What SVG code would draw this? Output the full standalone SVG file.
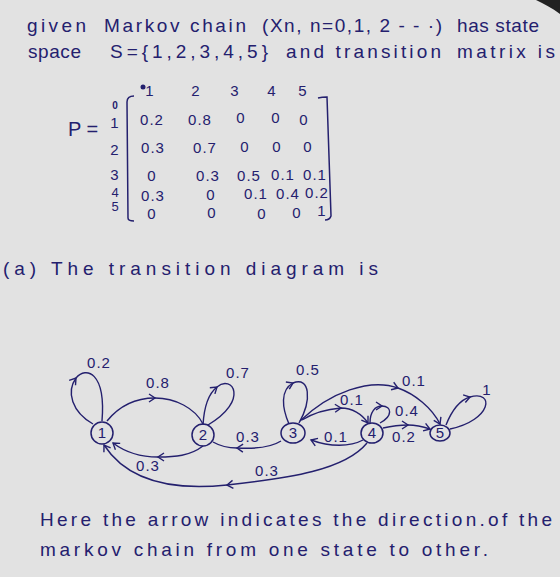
<svg xmlns="http://www.w3.org/2000/svg" width="560" height="577" viewBox="0 0 560 577">
<defs>
<marker id="chev" markerUnits="userSpaceOnUse" markerWidth="12" markerHeight="12" viewBox="-8 -6 10 12" refX="0" refY="0" orient="auto">
<path d="M-6,-4 L0,0 L-6,4" fill="none" stroke="#24206e" stroke-width="1.4"/>
</marker>
</defs>
<style>
text{font-family:"Liberation Sans","DejaVu Sans",sans-serif;fill:#24206e}
.t{font-size:19px}
.m{font-size:15px;text-anchor:middle;letter-spacing:1px}
.l{font-size:15px;text-anchor:middle;letter-spacing:1px}
.n{font-size:15px;text-anchor:middle}
.node ellipse{fill:none;stroke:#24206e;stroke-width:1.5}
.e{fill:none;stroke:#24206e;stroke-width:1.4}
.mid{marker-mid:url(#chev)}
.end{marker-end:url(#chev)}
.br{fill:none;stroke:#24206e;stroke-width:1.5}
</style>
<rect width="560" height="577" fill="#e2e2e2"/>
<path d="M536,0 L560,0 L560,14 C552,8 544,4 536,0 Z" fill="#222"/>
<g id="intro">
<text class="t" x="27" y="32" textLength="59" lengthAdjust="spacing">given</text>
<text class="t" x="104" y="32" textLength="142" lengthAdjust="spacing">Markov chain</text>
<text class="t" x="262" y="32" textLength="180" lengthAdjust="spacing">(Xn, n=0,1, 2 - - ·)</text>
<text class="t" x="457" y="32" textLength="82" lengthAdjust="spacing">has state</text>
<text class="t" x="28" y="58" textLength="53" lengthAdjust="spacing">space</text>
<text class="t" x="110" y="58" textLength="158" lengthAdjust="spacing">S={1,2,3,4,5}</text>
<text class="t" x="286" y="58" textLength="155" lengthAdjust="spacing">and transition</text>
<text class="t" x="457" y="58" textLength="98" lengthAdjust="spacing">matrix is</text>
</g>
<g id="matrix">
<text x="68" y="136" style="font-size:20px">P =</text>
<path class="br" d="M134,96 C129,96 127,98 127,102 L128,218 C128,220 130,221 134,221"/>
<path class="br" d="M318,98 C322,97 325,97 327,97 L331,216 C330,219 328,220 325,220"/>
<circle cx="143" cy="87" r="2.5" fill="#24206e"/>
<text class="m" x="150" y="96">1</text>
<text class="m" x="196" y="96">2</text>
<text class="m" x="235" y="96">3</text>
<text class="m" x="272" y="96">4</text>
<text class="m" x="303" y="96">5</text>
<text x="115" y="109" style="font-weight:bold;font-size:10px;text-anchor:middle">0</text>
<text class="m" x="115" y="128">1</text>
<text class="m" x="115" y="155">2</text>
<text class="m" x="115" y="180">3</text>
<text x="115" y="197" style="font-size:13px;text-anchor:middle">4</text>
<text x="115" y="211" style="font-size:13px;text-anchor:middle">5</text>
<text class="m" x="152" y="125">0.2</text>
<text class="m" x="200" y="125">0.8</text>
<text class="m" x="241" y="123">0</text>
<text class="m" x="276" y="123">0</text>
<text class="m" x="304" y="125">0</text>
<text class="m" x="153" y="153">0.3</text>
<text class="m" x="205" y="153">0.7</text>
<text class="m" x="245" y="152">0</text>
<text class="m" x="277" y="152">0</text>
<text class="m" x="308" y="152">0</text>
<text class="m" x="152" y="181">0</text>
<text class="m" x="208" y="181">0.3</text>
<text class="m" x="249" y="181">0.5</text>
<text class="m" x="283" y="180">0.1</text>
<text class="m" x="315" y="180">0.1</text>
<text class="m" x="153" y="201">0.3</text>
<text class="m" x="211" y="200">0</text>
<text class="m" x="256" y="199">0.1</text>
<text class="m" x="288" y="199">0.4</text>
<text class="m" x="317" y="198">0.2</text>
<text class="m" x="152" y="219">0</text>
<text class="m" x="212" y="218">0</text>
<text class="m" x="262" y="219">0</text>
<text class="m" x="297" y="218">0</text>
<text class="m" x="322" y="216">1</text>
</g>
<text id="caption" class="t" x="3" y="275" textLength="375" lengthAdjust="spacing">(a) The transition diagram is</text>
<g id="connectors">
<path class="e mid" d="M93,424 C72,412 66,392 76,378 C86,366 106,372 102,421"/>
<path class="e mid" d="M107,421 C120,405 135,398 155,398 C175,398 195,408 203,424"/>
<path class="e mid" d="M203,425 C204,408 208,394 217,387 C232,374 250,400 208,425"/>
<path class="e mid end" d="M203,446 C190,456 175,457 158,457 C140,457 125,452 113,443"/>
<path class="e mid" d="M281,441 C270,448 255,449 237,448 C228,448 220,446 213,442"/>
<path class="e mid end" d="M367,443 C345,470 290,478 227,485 C180,490 130,485 104,445"/>
<path class="e mid" d="M289,424 C282,408 280,390 293,383 C310,376 312,400 299,423"/>
<path class="e mid end" d="M300,421 C330,392 370,378 398,388 C415,394 432,408 440,424"/>
<path class="e mid end" d="M302,420 C315,412 328,409 341,408 C352,408 362,414 368,423"/>
<path class="e mid" d="M370,423 C370,412 375,406 382,406 C392,406 393,416 380,423"/>
<path class="e mid end" d="M383,428 C392,426 400,425 408,425 C416,425 424,427 430,429"/>
<path class="e end" d="M363,440 C350,447 330,447 311,440"/>
<path class="e mid" d="M446,425 C452,410 460,400 470,397 C495,390 492,420 450,429"/>
</g>
<g id="n1" class="node"><ellipse cx="102" cy="433" rx="11" ry="11"/><text class="n" x="102" y="438">1</text></g>
<g id="n2" class="node"><ellipse cx="203" cy="435" rx="11" ry="11"/><text class="n" x="203" y="440">2</text></g>
<g id="n3" class="node"><ellipse cx="293" cy="433" rx="12" ry="10"/><text class="n" x="293" y="438">3</text></g>
<g id="n4" class="node"><ellipse cx="372" cy="433" rx="11" ry="10"/><text class="n" x="372" y="438">4</text></g>
<g id="n5" class="node"><ellipse cx="440" cy="433" rx="10" ry="8"/><text class="n" x="440" y="438">5</text></g>
<g id="labels">
<text class="l" x="99" y="368">0.2</text>
<text class="l" x="158" y="388">0.8</text>
<text class="l" x="238" y="378">0.7</text>
<text class="l" x="248" y="442">0.3</text>
<text class="l" x="148" y="471">0.3</text>
<text class="l" x="267" y="476">0.3</text>
<text class="l" x="308" y="375">0.5</text>
<text class="l" x="414" y="386">0.1</text>
<text class="l" x="352" y="405">0.1</text>
<text class="l" x="407" y="416">0.4</text>
<text class="l" x="336" y="442">0.1</text>
<text class="l" x="404" y="442">0.2</text>
<text class="l" x="487" y="395">1</text>
</g>
<g id="note">
<text class="t" x="40" y="526" textLength="512" lengthAdjust="spacing">Here the arrow indicates the direction.of the</text>
<text class="t" x="40" y="556" textLength="448" lengthAdjust="spacing">markov chain from one state to other.</text>
</g>
</svg>
